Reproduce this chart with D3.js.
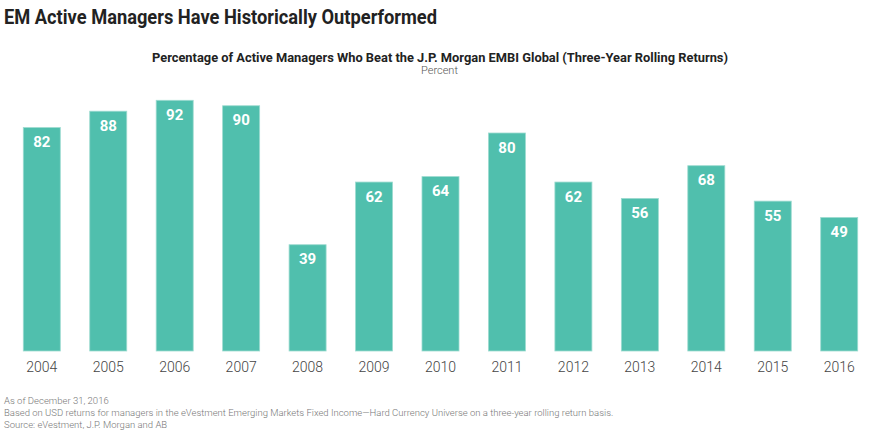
<!DOCTYPE html>
<html>
<head>
<meta charset="utf-8">
<script src="https://cdn.jsdelivr.net/npm/d3@7"></script>
<style>
html,body{margin:0;padding:0;background:#fff;}
svg{display:block;}
</style>
</head>
<body>
<svg id="chart" width="880" height="431"></svg>
<script>
const categories = ["2004","2005","2006","2007","2008","2009","2010","2011","2012","2013","2014","2015","2016"];
const values = [82, 88, 92, 90, 39, 62, 64, 80, 62, 56, 68, 55, 49];
const title = "EM Active Managers Have Historically Outperformed";
const subtitle = "Percentage of Active Managers Who Beat the J.P. Morgan EMBI Global (Three-Year Rolling Returns)";
const unitLabel = "Percent";
const notes = [
  "As of December 31, 2016",
  "Based on USD returns for managers in the eVestment Emerging Markets Fixed Income\u2014Hard Currency Universe on a three-year rolling return basis.",
  "Source: eVestment, J.P. Morgan and AB"
];

const svg = d3.select("#chart");
const font = "Roboto, 'Open Sans', 'DejaVu Sans', sans-serif";

const x = d3.scaleBand().domain(categories).range([8.6, 872.4]).paddingInner(0.443).paddingOuter(0.221);
const y = d3.scaleLinear().domain([0, 100]).range([351, 78.5]);

svg.append("text").attr("x", 4).attr("y", 24)
  .attr("font-family", font).attr("font-weight", 700).attr("font-size", 20)
  .attr("fill", "#222").attr("textLength", 433).attr("lengthAdjust", "spacingAndGlyphs")
  .text(title);

svg.append("text").attr("x", 152).attr("y", 62)
  .attr("font-family", font).attr("font-weight", 700).attr("font-size", 13)
  .attr("fill", "#222").attr("textLength", 576).attr("lengthAdjust", "spacingAndGlyphs")
  .text(subtitle);

svg.append("text").attr("x", 439.5).attr("y", 74).attr("text-anchor", "middle")
  .attr("font-family", font).attr("font-weight", 300).attr("font-size", 11).attr("fill", "#555")
  .text(unitLabel);

const data = categories.map((c, i) => ({c, v: values[i]}));

svg.append("g").selectAll("rect").data(data).join("rect")
  .attr("x", d => x(d.c)).attr("y", d => y(d.v))
  .attr("width", x.bandwidth()).attr("height", d => y(0) - y(d.v))
  .attr("fill", "#50bfad").attr("stroke", "#9ddbd0").attr("stroke-width", 0.8);

svg.append("g").selectAll("text").data(data).join("text")
  .attr("x", d => x(d.c) + x.bandwidth() / 2).attr("y", d => y(d.v) + 19.5)
  .attr("text-anchor", "middle")
  .attr("font-family", font).attr("font-weight", 700).attr("font-size", 15)
  .attr("fill", "#fff").text(d => d.v);

const xAxis = svg.append("g").attr("transform", `translate(0,${y(0)})`)
  .call(d3.axisBottom(x).tickSize(0).tickPadding(10));
xAxis.select(".domain").remove();
xAxis.selectAll("text").attr("font-family", font).attr("font-weight", 300).attr("font-size", 14)
  .attr("fill", "#444").attr("dy", "0.71em").attr("y", 11);

svg.append("g").selectAll("text").data(notes).join("text")
  .attr("x", 4).attr("y", (d, i) => 404 + i * 12)
  .attr("font-family", font).attr("font-weight", 300).attr("font-size", 9.5).attr("fill", "#777")
  .text(d => d);
</script>
</body>
</html>
